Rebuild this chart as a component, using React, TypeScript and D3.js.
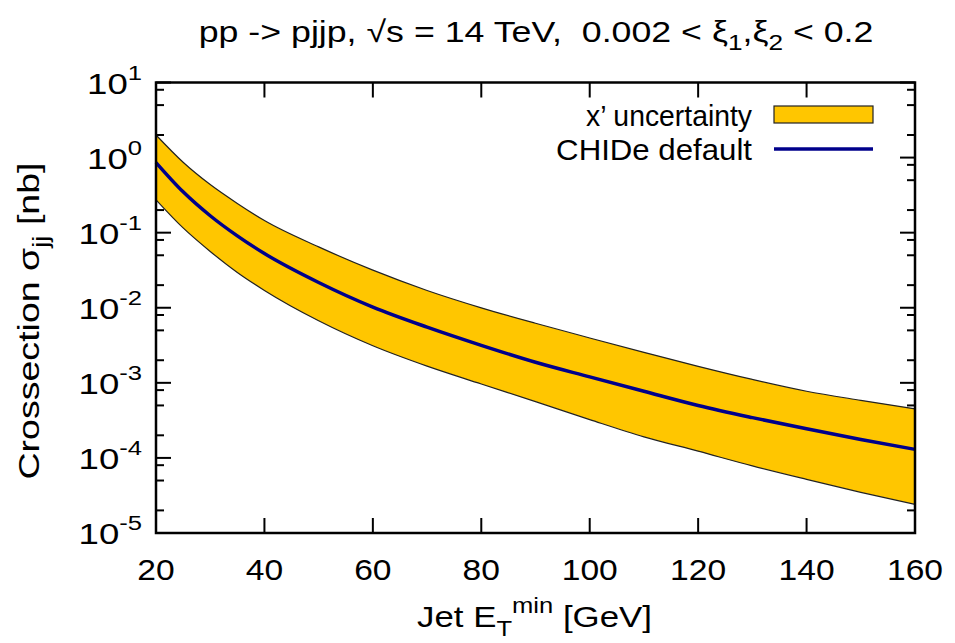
import { useEffect, useRef } from 'react';
import * as d3 from 'd3';

// Jet E_T^min [GeV]
const etMin = [20, 25, 30, 35, 40, 50, 60, 70, 80, 90, 100, 110, 120, 130, 140, 150, 160];
// CHIDe default cross section [nb]
const chideDefault = [0.859, 0.35, 0.168, 0.0906, 0.0527, 0.0217, 0.0102, 0.00552, 0.00316, 0.00188, 0.0012, 7.71e-4, 4.99e-4, 3.44e-4, 2.44e-4, 1.76e-4, 1.3e-4];
// x' uncertainty band
const bandUpper = [2.0, 0.867, 0.437, 0.245, 0.145, 0.0646, 0.0317, 0.017, 0.00998, 0.00621, 0.00396, 0.00255, 0.00166, 0.00111, 7.73e-4, 5.85e-4, 4.51e-4];
const bandLower = [0.274, 0.1156, 0.0562, 0.0295, 0.017, 0.00671, 0.00312, 0.00167, 9.66e-4, 5.62e-4, 3.24e-4, 1.91e-4, 1.23e-4, 7.83e-5, 5.18e-5, 3.48e-5, 2.41e-5];

const xTicks = [20, 40, 60, 80, 100, 120, 140, 160];
const yExponents = [-5, -4, -3, -2, -1, 0, 1];
const yMinorFactors = [2, 5, 8];

const FONT = '"Liberation Sans", Arial, Helvetica, sans-serif';

export default function App() {
  const svgRef = useRef<SVGSVGElement | null>(null);
  const width = 955;
  const height = 643;

  useEffect(() => {
    if (!svgRef.current) return;
    const margin = { top: 82.5, right: 40, bottom: 110, left: 156 };
    const innerW = width - margin.left - margin.right;
    const innerH = height - margin.top - margin.bottom;

    const svg = d3.select(svgRef.current);
    svg.selectAll('*').remove();

    const g = svg.append('g').attr('transform', `translate(${margin.left},${margin.top})`);

    const x = d3.scaleLinear().domain([20, 160]).range([0, innerW]);
    const y = d3.scaleLog().domain([1e-5, 10]).range([innerH, 0]);

    const rows = etMin.map((e, i) => ({ e, c: chideDefault[i], hi: bandUpper[i], lo: bandLower[i] }));

    // text in a group, stretched horizontally (the original font runs wider than Arial)
    const label = (parent: any, tx: number, ty: number, opts: { size?: number; anchor?: string; sx?: number; target?: number; rotate?: number }) => {
      const grp = parent.append('g');
      const t = grp.append('text')
        .attr('x', 0).attr('y', 0)
        .attr('text-anchor', opts.anchor || 'middle')
        .attr('font-family', FONT)
        .attr('font-size', opts.size || 30)
        .style('white-space', 'pre');
      const place = () => {
        let sx = opts.sx || 1;
        if (opts.target) {
          const len = (t.node() as SVGTextElement).getComputedTextLength();
          if (len > 0) sx = opts.target / len;
        }
        grp.attr('transform', `translate(${tx},${ty}) rotate(${opts.rotate || 0}) scale(${sx},1)`);
      };
      return { t, place };
    };

    // ticks (behind the data)
    const ticks = g.append('g').attr('stroke', '#000').attr('stroke-width', 2);
    xTicks.forEach((t) => {
      ticks.append('line').attr('x1', x(t)).attr('x2', x(t)).attr('y1', innerH).attr('y2', innerH - 15);
      ticks.append('line').attr('x1', x(t)).attr('x2', x(t)).attr('y1', 0).attr('y2', 15);
    });
    yExponents.forEach((p) => {
      const v = Math.pow(10, p);
      ticks.append('line').attr('x1', 0).attr('x2', 15).attr('y1', y(v)).attr('y2', y(v));
      ticks.append('line').attr('x1', innerW).attr('x2', innerW - 15).attr('y1', y(v)).attr('y2', y(v));
      if (p < 1) {
        yMinorFactors.forEach((f) => {
          const m = f * v;
          ticks.append('line').attr('x1', 0).attr('x2', 8).attr('y1', y(m)).attr('y2', y(m));
          ticks.append('line').attr('x1', innerW).attr('x2', innerW - 8).attr('y1', y(m)).attr('y2', y(m));
        });
      }
    });

    const curve = d3.curveMonotoneX;

    // uncertainty band
    const area = d3.area<any>()
      .x((d) => x(d.e))
      .y0((d) => y(d.lo))
      .y1((d) => y(d.hi))
      .curve(curve);
    g.append('path').datum(rows).attr('d', area).attr('fill', '#ffc600').attr('stroke', 'none');
    const hiLine = d3.line<any>().x((d) => x(d.e)).y((d) => y(d.hi)).curve(curve);
    const loLine = d3.line<any>().x((d) => x(d.e)).y((d) => y(d.lo)).curve(curve);
    g.append('path').datum(rows).attr('d', hiLine).attr('fill', 'none').attr('stroke', '#222').attr('stroke-width', 1.2);
    g.append('path').datum(rows).attr('d', loLine).attr('fill', 'none').attr('stroke', '#222').attr('stroke-width', 1.2);

    // CHIDe default
    const cLine = d3.line<any>().x((d) => x(d.e)).y((d) => y(d.c)).curve(curve);
    g.append('path').datum(rows).attr('d', cLine).attr('fill', 'none').attr('stroke', '#00008b').attr('stroke-width', 3.5);

    // border in front
    g.append('rect')
      .attr('x', 0).attr('y', 0).attr('width', innerW).attr('height', innerH)
      .attr('fill', 'none').attr('stroke', '#000').attr('stroke-width', 2.5);

    // x tick labels
    xTicks.forEach((t) => {
      const l = label(g, x(t), innerH + 47, { sx: 1.12 });
      l.t.text(String(t));
      l.place();
    });

    // y tick labels 10^p
    yExponents.forEach((p) => {
      const l = label(g, -14, y(Math.pow(10, p)) + 11, { anchor: 'end', sx: 1.22 });
      l.t.append('tspan').text('10');
      l.t.append('tspan').attr('dy', -14).attr('font-size', 21).text(String(p));
      l.place();
    });

    // title
    const title = label(svg, 536, 42, { target: 675 });
    title.t.append('tspan').text('pp -> pjjp, \u221As = 14 TeV,  0.002 < \u03BE');
    title.t.append('tspan').attr('dy', 8).attr('font-size', 22).text('1');
    title.t.append('tspan').attr('dy', -8).text(',\u03BE');
    title.t.append('tspan').attr('dy', 8).attr('font-size', 22).text('2');
    title.t.append('tspan').attr('dy', -8).text(' < 0.2');
    title.place();

    // x axis label
    const xl = label(svg, 534.5, 627, { target: 235 });
    xl.t.append('tspan').text('Jet E');
    xl.t.append('tspan').attr('dy', 9).attr('font-size', 22).text('T');
    xl.t.append('tspan').attr('dy', -23).attr('font-size', 22).text('min');
    xl.t.append('tspan').attr('dy', 14).text(' [GeV]');
    xl.place();

    // y axis label
    const yl = label(svg, 39, 321, { target: 317, rotate: -90 });
    yl.t.append('tspan').text('Crossection \u03C3');
    yl.t.append('tspan').attr('dy', 9).attr('font-size', 22).text('jj');
    yl.t.append('tspan').attr('dy', -9).text(' [nb]');
    yl.place();

    // legend
    const l1 = label(svg, 752, 125.5, { anchor: 'end', target: 166 });
    l1.t.text('x\u2019 uncertainty');
    l1.place();
    svg.append('rect')
      .attr('x', 774).attr('y', 106).attr('width', 99).attr('height', 17)
      .attr('fill', '#ffc600').attr('stroke', '#222').attr('stroke-width', 1.2);
    const l2 = label(svg, 752, 160, { anchor: 'end', target: 196 });
    l2.t.text('CHIDe default');
    l2.place();
    svg.append('line')
      .attr('x1', 774).attr('x2', 873).attr('y1', 149).attr('y2', 149)
      .attr('stroke', '#00008b').attr('stroke-width', 3.5);
  }, []);

  return (
    <div style={{ width, height }}>
      <style>{'body{margin:0;background:#fff}'}</style>
      <svg ref={svgRef} width={width} height={height} style={{ display: 'block' }}></svg>
    </div>
  );
}
